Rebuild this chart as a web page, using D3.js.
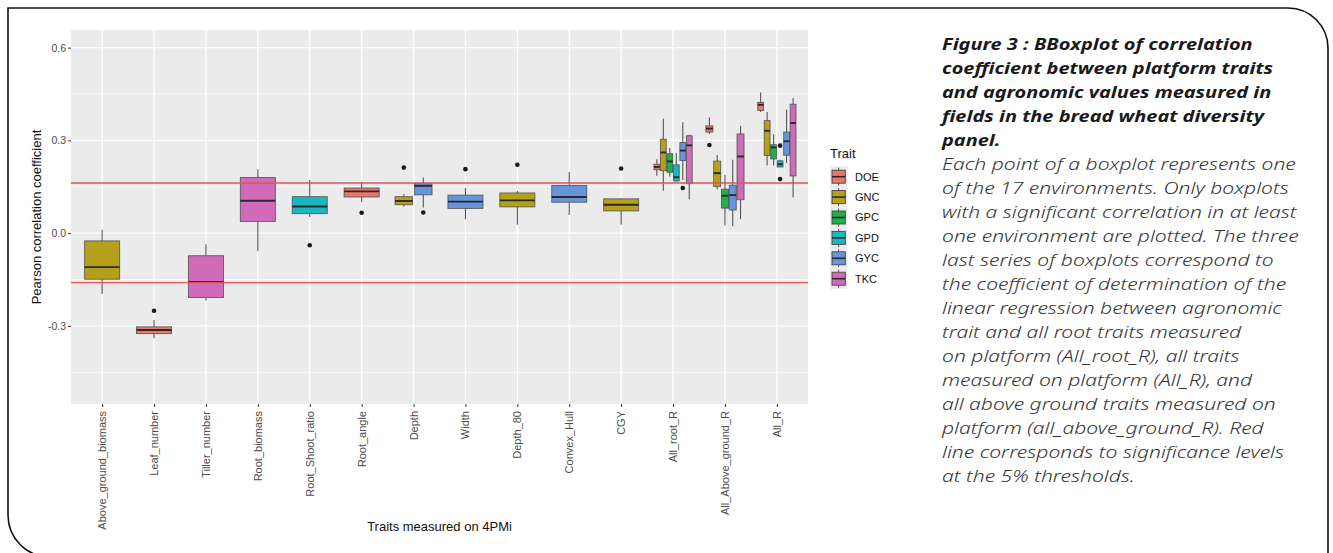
<!DOCTYPE html>
<html><head><meta charset="utf-8">
<script src="https://cdn.jsdelivr.net/npm/d3@7"></script>
<style>
html,body{margin:0;padding:0;background:#fff;}
svg{display:block;}
</style></head>
<body>
<svg id="c" width="1333" height="553"></svg>
<script>
// ---------------- data ----------------
const categories = ["Above_ground_biomass","Leaf_number","Tiller_number","Root_biomass","Root_Shoot_ratio","Root_angle","Depth","Width","Depth_80","Convex_Hull","CGY","All_root_R","All_Above_ground_R","All_R"];
const traits = ["DOE","GNC","GPC","GPD","GYC","TKC"];
const traitColors = ["#E8766D","#B5A01B","#1FB04A","#19B8C0","#6894DA","#D06BB9"];
const yTicks = [-0.3, 0.0, 0.3, 0.6];
const yMinor = [-0.45, -0.15, 0.15, 0.45];
const thresholds = [0.162, -0.160];

const boxCategory = ["Above_ground_biomass","Leaf_number","Tiller_number","Root_biomass","Root_Shoot_ratio","Root_angle","Depth","Depth","Width","Depth_80","Convex_Hull","CGY",
  "All_root_R","All_root_R","All_root_R","All_root_R","All_root_R","All_root_R",
  "All_Above_ground_R","All_Above_ground_R","All_Above_ground_R","All_Above_ground_R","All_Above_ground_R",
  "All_R","All_R","All_R","All_R","All_R","All_R"];
const boxTrait = ["GNC","DOE","TKC","TKC","GPD","DOE","GNC","GYC","GYC","GNC","GYC","GNC",
  "DOE","GNC","GPC","GPD","GYC","TKC",
  "DOE","GNC","GPC","GYC","TKC",
  "DOE","GNC","GPC","GPD","GYC","TKC"];
const whiskerLow = [-0.197,-0.340,-0.218,-0.058,0.052,0.100,0.085,0.083,0.045,0.027,0.059,0.027,
  0.186,0.137,0.183,0.166,0.172,0.110,
  0.321,0.142,0.025,0.022,0.045,
  0.392,0.219,0.219,0.214,0.227,0.115];
const q1 = [-0.149,-0.325,-0.208,0.038,0.063,0.117,0.092,0.124,0.080,0.085,0.100,0.072,
  0.205,0.202,0.197,0.169,0.235,0.160,
  0.327,0.151,0.081,0.075,0.108,
  0.397,0.251,0.240,0.214,0.252,0.185];
const median = [-0.110,-0.313,-0.158,0.105,0.086,0.135,0.104,0.153,0.102,0.106,0.117,0.092,
  0.214,0.261,0.232,0.181,0.267,0.284,
  0.338,0.194,0.121,0.123,0.248,
  0.415,0.331,0.277,0.223,0.297,0.356];
const q3 = [-0.025,-0.303,-0.073,0.180,0.118,0.146,0.118,0.160,0.123,0.130,0.154,0.111,
  0.223,0.304,0.257,0.221,0.293,0.315,
  0.347,0.233,0.142,0.155,0.321,
  0.423,0.364,0.286,0.234,0.327,0.417];
const whiskerHigh = [0.011,-0.281,-0.036,0.207,0.172,0.166,0.126,0.180,0.146,0.137,0.198,0.113,
  0.239,0.370,0.275,0.259,0.359,0.318,
  0.374,0.253,0.189,0.237,0.347,
  0.455,0.392,0.320,0.237,0.399,0.437];
const outliers = [[],[-0.251],[],[],[-0.039],[0.066],[0.212],[0.067],[0.207],[0.221],[],[0.209],
  [],[],[],[],[0.146],[],
  [0.285],[],[],[],[],
  [],[],[],[0.283,0.175],[],[]];

const captionBold = ["Figure 3 : BBoxplot of correlation","coefficient between platform traits","and agronomic values measured in","fields in the bread wheat diversity","panel."];
const captionBody = ["Each point of a boxplot represents one","of the 17 environments. Only boxplots","with a significant correlation in at least","one environment are plotted. The three","last series of boxplots correspond to","the coefficient of determination of the","linear regression between agronomic","trait and all root traits measured","on platform (All_root_R), all traits","measured on platform (All_R), and","all above ground traits measured on","platform (all_above_ground_R). Red","line corresponds to significance levels","at the 5% thresholds."];

// ---------------- layout ----------------
const svg = d3.select("#c");
const P = {l:71, r:808, t:30, b:404};
const axisFont = "'Liberation Sans', Arial, sans-serif";

// card border
svg.append("path")
  .attr("d","M1328,560 L1328,48 A40,40 0 0 0 1288,8 L8,8 L8,515 A42,42 0 0 0 50,557")
  .attr("fill","none").attr("stroke","#111").attr("stroke-width",1.6);

// ggplot discrete expansion: 0.6 unit on each side
const unit = (P.r - P.l) / (categories.length - 1 + 1.2);
const xs = d3.scalePoint().domain(categories).range([P.l + unit*0.6, P.r - unit*0.6]);
const cx = c => xs(c);
const y = d3.scaleLinear().domain([-0.5525, 0.657]).range([P.b, P.t]);
const color = d3.scaleOrdinal().domain(traits).range(traitColors);

const g = svg.append("g");
g.append("rect").attr("x",P.l).attr("y",P.t).attr("width",P.r-P.l).attr("height",P.b-P.t).attr("fill","#EBEBEB");
g.selectAll(".ymin").data(yMinor).join("line")
  .attr("x1",P.l).attr("x2",P.r).attr("y1",d=>y(d)).attr("y2",d=>y(d))
  .attr("stroke","#fff").attr("stroke-width",0.7);
g.selectAll(".ymaj").data(yTicks).join("line")
  .attr("x1",P.l).attr("x2",P.r).attr("y1",d=>y(d)).attr("y2",d=>y(d))
  .attr("stroke","#fff").attr("stroke-width",1.3);
g.selectAll(".xmaj").data(categories).join("line")
  .attr("x1",d=>cx(d)).attr("x2",d=>cx(d)).attr("y1",P.t).attr("y2",P.b)
  .attr("stroke","#fff").attr("stroke-width",1.3);

// boxes (position_dodge2 style)
const boxes = boxCategory.map((c,i)=>({c, t:boxTrait[i], lo:whiskerLow[i], q1:q1[i], med:median[i], q3:q3[i], hi:whiskerHigh[i], out:outliers[i]}));
const groupTotal = unit * 0.75;
boxes.forEach(b=>{
  const grp = boxes.filter(o=>o.c===b.c);
  const n = grp.length, k = grp.indexOf(b);
  const slot = groupTotal / n;
  b.x0 = cx(b.c) - groupTotal/2 + slot*k + slot*0.05;
  b.w = slot*0.9;
  b.xc = b.x0 + b.w/2;
});

const bg = g.selectAll(".box").data(boxes).join("g");
bg.append("line").attr("x1",d=>d.xc).attr("x2",d=>d.xc).attr("y1",d=>y(d.hi)).attr("y2",d=>y(d.q3))
  .attr("stroke","#555").attr("stroke-width",1.1);
bg.append("line").attr("x1",d=>d.xc).attr("x2",d=>d.xc).attr("y1",d=>y(d.q1)).attr("y2",d=>y(d.lo))
  .attr("stroke","#555").attr("stroke-width",1.1);
bg.append("rect").attr("x",d=>d.x0).attr("width",d=>d.w)
  .attr("y",d=>y(d.q3)).attr("height",d=>Math.max(1,y(d.q1)-y(d.q3)))
  .attr("fill",d=>color(d.t)).attr("stroke","#444").attr("stroke-opacity",0.8).attr("stroke-width",0.9);
bg.append("line").attr("x1",d=>d.x0).attr("x2",d=>d.x0+d.w).attr("y1",d=>y(d.med)).attr("y2",d=>y(d.med))
  .attr("stroke","#2a2a2a").attr("stroke-width",1.9);
bg.selectAll("circle").data(d=>d.out.map(v=>({v, xc:d.xc}))).join("circle")
  .attr("cx",d=>d.xc).attr("cy",d=>y(d.v)).attr("r",2.3).attr("fill","#1a1a1a");

// threshold lines
g.selectAll(".thr").data(thresholds).join("line")
  .attr("x1",P.l).attr("x2",P.r).attr("y1",d=>y(d)).attr("y2",d=>y(d))
  .attr("stroke","#E0525A").attr("stroke-width",1.4);

// axes
const fmt = d3.format(".1f");
const yAxis = d3.axisLeft(y).tickValues(yTicks).tickFormat(d=>fmt(d).replace("\u2212","-")).tickSize(3).tickPadding(2);
const ya = svg.append("g").attr("transform",`translate(${P.l},0)`).call(yAxis);
ya.select(".domain").remove();
ya.selectAll("line").attr("stroke","#333");
ya.selectAll("text").attr("fill","#4D4D4D").style("font-family",axisFont).style("font-size","10.5px");

const xAxis = d3.axisBottom(xs).tickSize(3).tickPadding(4);
const xa = svg.append("g").attr("transform",`translate(0,${P.b})`).call(xAxis);
xa.select(".domain").remove();
xa.selectAll("line").attr("stroke","#333");
xa.selectAll("text").attr("fill","#4D4D4D").style("font-family",axisFont).style("font-size","11px")
  .attr("transform","rotate(-90)").attr("text-anchor","end").attr("dy","0.32em").attr("x",-7).attr("y",0);

svg.append("text").attr("x",(P.l+P.r)/2).attr("y",531).attr("text-anchor","middle")
  .style("font-family",axisFont).style("font-size","13px").attr("fill","#111").text("Traits measured on 4PMi");
svg.append("text").attr("transform",`translate(41,${(P.t+P.b)/2}) rotate(-90)`).attr("text-anchor","middle")
  .style("font-family",axisFont).style("font-size","13px").attr("fill","#111").text("Pearson correlation coefficient");

// legend
const lg = svg.append("g").attr("transform","translate(830,0)");
lg.append("text").attr("x",0).attr("y",158).style("font-family",axisFont).style("font-size","13px").attr("fill","#111").text("Trait");
const li = lg.selectAll(".li").data(traits).join("g").attr("transform",(d,i)=>`translate(0,${176.7 + i*20.4})`);
li.append("rect").attr("x",0).attr("y",-10.2).attr("width",17.3).attr("height",20.4).attr("fill","#EBEBEB");
li.append("line").attr("x1",8.6).attr("x2",8.6).attr("y1",-9).attr("y2",9).attr("stroke","#555");
li.append("rect").attr("x",2).attr("y",-6.5).attr("width",13.3).attr("height",13).attr("fill",d=>color(d)).attr("stroke","#444").attr("stroke-width",0.9);
li.append("line").attr("x1",2).attr("x2",15.3).attr("y1",0).attr("y2",0).attr("stroke","#2a2a2a").attr("stroke-width",1.6);
li.append("text").attr("x",25).attr("y",0).attr("dy","0.35em").style("font-family",axisFont).style("font-size","11px").attr("fill","#111").text(d=>d);

// caption (wide geometric face approximated by horizontal stretch)
const capFont = "'Noto Sans', 'Open Sans', sans-serif";
const boldG = svg.append("g");
const bt = boldG.selectAll(".cb").data(captionBold).join("text")
  .attr("x",0).attr("y",(d,i)=>50.5 + i*24)
  .style("font-family",capFont).style("font-size","16.5px").style("font-style","italic").style("font-weight","700")
  .attr("fill","#1a1a1a").text(d=>d);
const kb = 311 / bt.nodes()[0].getComputedTextLength();
boldG.attr("transform",`translate(942,0) scale(${kb},1)`);

const bodyG = svg.append("g");
const nt = bodyG.selectAll(".cn").data(captionBody).join("text")
  .attr("x",0).attr("y",(d,i)=>50.5 + (i+5)*24)
  .style("font-family",capFont).style("font-size","16.5px").style("font-style","italic").style("font-weight","300")
  .attr("fill","#333").text(d=>d);
const kn = 354 / nt.nodes()[0].getComputedTextLength();
bodyG.attr("transform",`translate(942,0) scale(${kn},1)`);
</script>
</body></html>
